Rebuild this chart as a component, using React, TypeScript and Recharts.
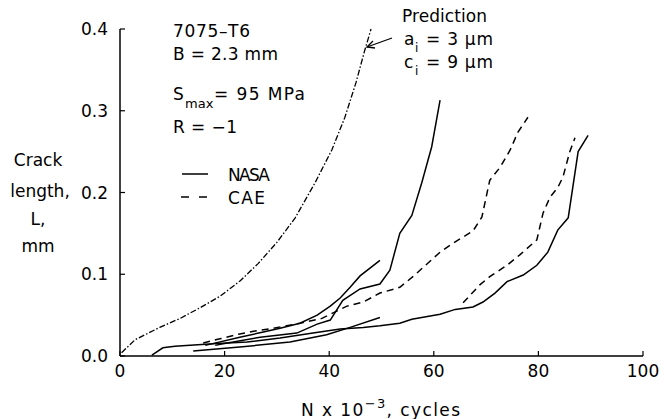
import React from 'react';
import { LineChart, Line, XAxis, YAxis } from 'recharts';

// cycles in thousands (N x 10^-3) and crack length L in mm
const predictionN = [0.3, 2.9, 7.6, 11.5, 15.3, 19.1, 23.0, 26.4, 30.0, 33.5, 37.3, 40.5, 43.0, 45.1, 46.8, 48.0];
const predictionL = [0.004, 0.02, 0.035, 0.046, 0.059, 0.073, 0.092, 0.113, 0.139, 0.169, 0.212, 0.252, 0.292, 0.334, 0.374, 0.4];

const nasaLongN = [6.1, 8.2, 10.5, 17.8, 24.3, 30.6, 36.9, 42.1, 46.5, 49.7, 53.5, 55.8, 61.2, 64.1, 67.5, 69.4, 71.7, 74.0, 77.1, 79.7, 81.8, 83.7, 85.7, 87.6, 89.5];
const nasaLongL = [0.001, 0.01, 0.012, 0.015, 0.017, 0.022, 0.028, 0.033, 0.035, 0.037, 0.04, 0.045, 0.051, 0.057, 0.06, 0.066, 0.077, 0.091, 0.099, 0.111, 0.127, 0.154, 0.169, 0.25, 0.27];

const nasaShortN = [14.0, 22.9, 32.5, 39.5, 44.0, 49.7];
const nasaShortL = [0.006, 0.011, 0.017, 0.026, 0.035, 0.047];

const nasaSteepN = [18.2, 19.7, 26.8, 33.8, 37.7, 40.2, 42.6, 45.9, 49.7, 51.6, 53.5, 55.8, 57.7, 59.6, 61.2];
const nasaSteepL = [0.013, 0.015, 0.023, 0.028, 0.039, 0.044, 0.068, 0.082, 0.088, 0.105, 0.15, 0.172, 0.212, 0.256, 0.313];

const nasaMidN = [16.3, 22.9, 27.2, 30.6, 34.4, 37.7, 40.2, 42.1, 44.0, 45.9, 49.7];
const nasaMidL = [0.013, 0.023, 0.029, 0.034, 0.04, 0.05, 0.061, 0.071, 0.084, 0.098, 0.117];

const caeUpperN = [15.9, 19.1, 22.9, 26.2, 29.3, 34.4, 38.6, 43.4, 46.5, 49.7, 53.5, 56.0, 61.2, 63.7, 67.5, 69.2, 70.7, 72.7, 74.6, 76.1, 78.0];
const caeUpperL = [0.016, 0.021, 0.027, 0.031, 0.034, 0.04, 0.046, 0.061, 0.066, 0.077, 0.084, 0.097, 0.127, 0.138, 0.153, 0.17, 0.215, 0.231, 0.252, 0.274, 0.292];

const caeLowerN = [65.6, 68.8, 70.7, 74.0, 76.5, 79.7, 80.9, 82.2, 83.7, 84.7, 86.0, 87.0];
const caeLowerL = [0.065, 0.087, 0.097, 0.111, 0.124, 0.142, 0.175, 0.194, 0.206, 0.219, 0.25, 0.267];

const xTicks = [0, 20, 40, 60, 80, 100];
const yTicks = [0, 0.1, 0.2, 0.3, 0.4];

const toPoints = (n: number[], l: number[]) => n.map((x, i) => ({ x, y: l[i] }));

const FONT = '"DejaVu Sans", sans-serif';
const tickStyle = { fill: '#000', fontSize: 17, fontFamily: FONT };

export default function App() {
  const solid = [
    toPoints(nasaLongN, nasaLongL),
    toPoints(nasaShortN, nasaShortL),
    toPoints(nasaSteepN, nasaSteepL),
    toPoints(nasaMidN, nasaMidL),
  ];
  const dashed = [toPoints(caeUpperN, caeUpperL), toPoints(caeLowerN, caeLowerL)];

  return (
    <div style={{ position: 'absolute', left: 0, top: 0, width: 669, height: 419, background: '#fff' }}>
      <LineChart width={669} height={419} margin={{ top: 29, right: 26, bottom: 8, left: 60 }}>
        <XAxis
          type="number"
          dataKey="x"
          domain={[0, 100]}
          ticks={xTicks}
          height={55}
          tickSize={-5}
          tickMargin={14}
          tick={tickStyle}
          axisLine={{ stroke: '#000', strokeWidth: 1.5 }}
          tickLine={{ stroke: '#000', strokeWidth: 1.2 }}
        />
        <YAxis
          type="number"
          dataKey="y"
          domain={[0, 0.4]}
          ticks={yTicks}
          width={60}
          tickSize={-5}
          tickMargin={17}
          tick={tickStyle}
          tickFormatter={(v: number) => v.toFixed(1)}
          axisLine={{ stroke: '#000', strokeWidth: 1.5 }}
          tickLine={{ stroke: '#000', strokeWidth: 1.2 }}
        />
        <Line
          data={toPoints(predictionN, predictionL)}
          dataKey="y"
          type="linear"
          stroke="#000"
          strokeWidth={1.3}
          strokeDasharray="6 2 1.5 2"
          dot={false}
          activeDot={false}
          isAnimationActive={false}
        />
        {solid.map((d, i) => (
          <Line
            key={'nasa' + i}
            data={d}
            dataKey="y"
            type="linear"
            stroke="#000"
            strokeWidth={1.5}
            dot={false}
            activeDot={false}
            isAnimationActive={false}
          />
        ))}
        {dashed.map((d, i) => (
          <Line
            key={'cae' + i}
            data={d}
            dataKey="y"
            type="linear"
            stroke="#000"
            strokeWidth={1.5}
            strokeDasharray="7 5"
            dot={false}
            activeDot={false}
            isAnimationActive={false}
          />
        ))}
      </LineChart>

      <svg
        width={669}
        height={419}
        style={{ position: 'absolute', left: 0, top: 0, pointerEvents: 'none' }}
        fontFamily={FONT}
        fontSize={17}
        fill="#000"
      >
        {/* axis titles */}
        <g textAnchor="middle">
          <text x={38} y={166}>Crack</text>
          <text x={40} y={197}>length,</text>
          <text x={38} y={225}>L,</text>
          <text x={38} y={252}>mm</text>
        </g>
        <text x={301} y={416} letterSpacing={1.4}>
          N x 10<tspan dy={-8} fontSize={13}>−3</tspan>
          <tspan dy={8}>, cycles</tspan>
        </text>

        {/* test conditions */}
        <text x={173} y={37} textLength={77}>7075–T6</text>
        <text x={173} y={60} textLength={105}>B = 2.3 mm</text>
        <text x={173} y={100}>S</text>
        <text x={185} y={108} fontSize={13}>max</text>
        <text x={214} y={100} textLength={91}>= 95 MPa</text>
        <text x={173} y={133} textLength={64}>R = −1</text>

        {/* legend */}
        <line x1={182} y1={174} x2={208} y2={174} stroke="#000" strokeWidth={1.5} />
        <text x={228} y={181} textLength={42}>NASA</text>
        <line x1={181} y1={197} x2={209} y2={197} stroke="#000" strokeWidth={1.5} strokeDasharray="8 10" />
        <text x={228} y={204} textLength={37}>CAE</text>

        {/* prediction note */}
        <text x={402} y={22} textLength={85}>Prediction</text>
        <text x={404} y={45}>a</text>
        <text x={415} y={52} fontSize={12}>i</text>
        <text x={426} y={45} textLength={67}>= 3 μm</text>
        <text x={404} y={68}>c</text>
        <text x={415} y={75} fontSize={12}>i</text>
        <text x={426} y={68} textLength={67}>= 9 μm</text>
        <g stroke="#000" strokeWidth={1.3} fill="none">
          <line x1={392} y1={38} x2={367} y2={47} />
          <polyline points="373,41 367,47 375,48" />
        </g>
      </svg>
    </div>
  );
}
